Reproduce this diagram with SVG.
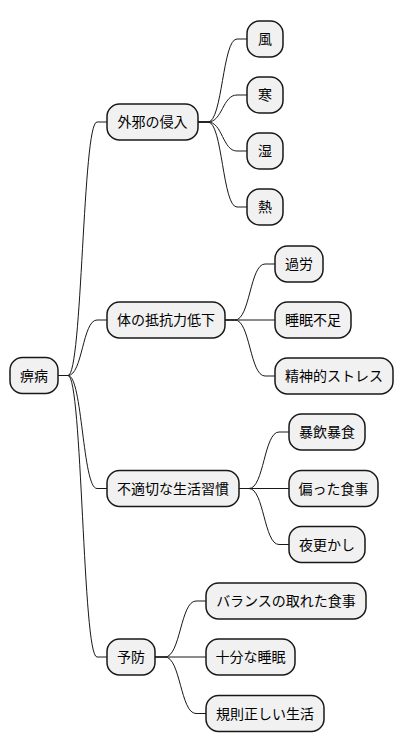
<svg xmlns="http://www.w3.org/2000/svg" width="404" height="752" viewBox="0 0 404 752">
<style>
.n rect{fill:#F1F1F1;stroke:#181818;stroke-width:1.5}
.n text{font-family:"Noto Sans CJK JP","Noto Sans CJK SC",sans-serif;font-size:14px;fill:#000;text-anchor:middle}
.c path{fill:none;stroke:#181818;stroke-width:1}
</style>
<rect width="404" height="752" fill="#FFFFFF"/>
<g class="c" id="connectors">
<path d="M58 375.5H68C82.5 375.5 82.5 122 97 122H107"/>
<path d="M58 375.5H68C82.5 375.5 82.5 320 97 320H107"/>
<path d="M58 375.5H68C82.5 375.5 82.5 488.5 97 488.5H107"/>
<path d="M58 375.5H68C82.5 375.5 82.5 657 97 657H107"/>
<path d="M198 122H208C222.5 122 222.5 39 237 39H247"/>
<path d="M198 122H208C222.5 122 222.5 95 237 95H247"/>
<path d="M198 122H208C222.5 122 222.5 151 237 151H247"/>
<path d="M198 122H208C222.5 122 222.5 207 237 207H247"/>
<path d="M225 320H235C250 320 250 264 265 264H275"/>
<path d="M225 320H275"/>
<path d="M225 320H235C250 320 250 376 265 376H275"/>
<path d="M239 488.5H249C264 488.5 264 432 279 432H289"/>
<path d="M239 488.5H289"/>
<path d="M239 488.5H249C264 488.5 264 544.5 279 544.5H289"/>
<path d="M155 657H165C180.5 657 180.5 601 196 601H206"/>
<path d="M155 657H206"/>
<path d="M155 657H165C180.5 657 180.5 713.5 196 713.5H206"/>
</g>
<g class="n" id="root"><rect x="10" y="357.5" width="48" height="36" rx="12.5"/><text x="34" y="380.5">痹病</text></g>
<g class="n" id="gaija"><rect x="107" y="104" width="91" height="36" rx="12.5"/><text x="152.5" y="127">外邪の侵入</text></g>
<g class="n" id="kaze"><rect x="247" y="21" width="36" height="36" rx="12.5"/><text x="265" y="44">風</text></g>
<g class="n" id="kan"><rect x="247" y="77" width="36" height="36" rx="12.5"/><text x="265" y="100">寒</text></g>
<g class="n" id="shitsu"><rect x="247" y="133" width="36" height="36" rx="12.5"/><text x="265" y="156">湿</text></g>
<g class="n" id="netsu"><rect x="247" y="189" width="36" height="36" rx="12.5"/><text x="265" y="212">熱</text></g>
<g class="n" id="teikou"><rect x="107" y="302" width="118" height="36" rx="12.5"/><text x="166" y="325">体の抵抗力低下</text></g>
<g class="n" id="karou"><rect x="275" y="246" width="48" height="36" rx="12.5"/><text x="299" y="269">過労</text></g>
<g class="n" id="suimin"><rect x="275" y="302" width="76" height="36" rx="12.5"/><text x="313" y="325">睡眠不足</text></g>
<g class="n" id="stress"><rect x="275" y="358" width="118" height="36" rx="12.5"/><text x="334" y="381">精神的ストレス</text></g>
<g class="n" id="seikatsu"><rect x="107" y="470.5" width="132" height="36" rx="12.5"/><text x="173" y="493.5">不適切な生活習慣</text></g>
<g class="n" id="bouin"><rect x="289" y="414" width="76" height="36" rx="12.5"/><text x="327" y="437">暴飲暴食</text></g>
<g class="n" id="katayotta"><rect x="289" y="470.5" width="89" height="36" rx="12.5"/><text x="333.5" y="493.5">偏った食事</text></g>
<g class="n" id="yofukashi"><rect x="289" y="526.5" width="76" height="36" rx="12.5"/><text x="327" y="549.5">夜更かし</text></g>
<g class="n" id="yobou"><rect x="107" y="639" width="48" height="36" rx="12.5"/><text x="131" y="662">予防</text></g>
<g class="n" id="balance"><rect x="206" y="583" width="160" height="36" rx="12.5"/><text x="286" y="606">バランスの取れた食事</text></g>
<g class="n" id="juubun"><rect x="206" y="639" width="89" height="36" rx="12.5"/><text x="250.5" y="662">十分な睡眠</text></g>
<g class="n" id="kisoku"><rect x="206" y="695.5" width="118" height="36" rx="12.5"/><text x="265" y="718.5">規則正しい生活</text></g>
</svg>
